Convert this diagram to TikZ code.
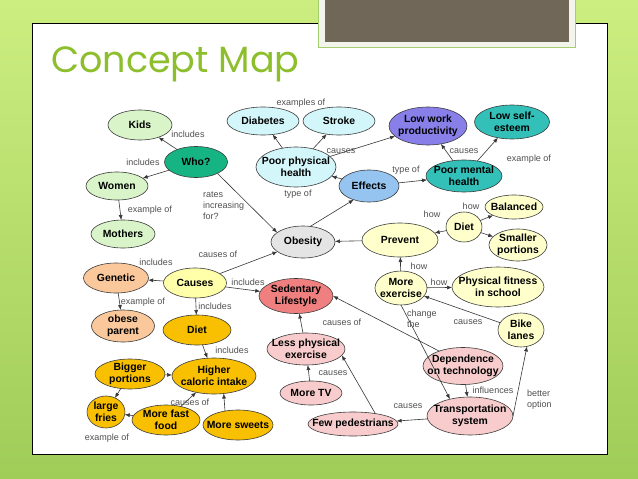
\documentclass[tikz,border=0pt]{standalone}
\usepackage{fontspec}
\setmainfont{Liberation Sans}
\newfontfamily\titlefont{Poppins}
\usetikzlibrary{shapes.geometric,arrows.meta}
\definecolor{bgtop}{RGB}{204,238,128}
\definecolor{bgbot}{RGB}{160,204,88}
\definecolor{titlec}{RGB}{141,190,44}
\definecolor{darkbox}{RGB}{113,103,88}
\definecolor{lightbox}{RGB}{243,245,236}
\definecolor{lightboxedge}{RGB}{165,205,110}
\definecolor{edgecol}{RGB}{60,60,60}
\definecolor{arrcol}{RGB}{55,55,55}
\definecolor{labcol}{RGB}{80,80,80}
\definecolor{lgreen}{RGB}{216,244,200}
\definecolor{whoc}{RGB}{22,180,130}
\definecolor{cyanc}{RGB}{210,246,250}
\definecolor{bluec}{RGB}{150,196,240}
\definecolor{purplec}{RGB}{136,128,232}
\definecolor{tealc}{RGB}{50,192,184}
\definecolor{lyel}{RGB}{255,255,204}
\definecolor{yelc}{RGB}{255,255,170}
\definecolor{grayc}{RGB}{228,228,228}
\definecolor{redc}{RGB}{240,128,128}
\definecolor{peachc}{RGB}{250,200,155}
\definecolor{goldc}{RGB}{248,192,0}
\definecolor{pinkc}{RGB}{248,204,204}
\tikzset{
  bub/.style={ellipse, draw=edgecol, line width=0.6pt, inner sep=0pt, outer sep=0pt},
  nt/.style={font=\bfseries\fontsize{10.4}{12}\selectfont, align=center, text=black, inner sep=0pt},
  lbl/.style={font=\fontsize{9}{11}\selectfont, text=labcol, inner sep=0pt, align=center},
  lbll/.style={font=\fontsize{9}{11}\selectfont, text=labcol, inner sep=0pt, align=left, anchor=west},
  arr/.style={draw=arrcol, line width=0.6pt, -{Latex[length=5pt,width=4pt]}},
  bn/.style n args={4}{bub, fill=#1, minimum width=#2, minimum height=#3, label={[nt]center:#4}},
}
\begin{document}
\begin{tikzpicture}[x=1pt,y=-1pt]
\useasboundingbox (0,0) rectangle (638,479);
% slide background
\shade[top color=bgtop, bottom color=bgbot] (0,0) rectangle (638,479);
\fill[white, draw=black, line width=0.8pt] (32,23) rectangle (607,454);
\fill[lightbox, draw=lightboxedge, line width=0.6pt] (318,-2) rectangle (575,47);
\fill[darkbox] (325,-2) rectangle (569,42);
\node[anchor=base west, inner sep=0pt, text=titlec, font=\titlefont\fontsize{36.5}{40}\selectfont] (title) at (51,72) {Concept Map};

% nodes
\node[bn={lgreen}{64}{30}{Kids}] (kids) at (140,125) {};
\node[bn={whoc}{63}{31}{Who?}] (who) at (196,162) {};
\node[bn={lgreen}{62}{28}{Women}] (women) at (117,186) {};
\node[bn={lgreen}{64}{28}{Mothers}] (mothers) at (123,234) {};
\node[bn={cyanc}{72}{28}{Diabetes}] (diab) at (263,121) {};
\node[bn={cyanc}{72}{28}{Stroke}] (stroke) at (339,121) {};
\node[bn={cyanc}{80}{40}{Poor physical\\health}] (phys) at (296,167) {};
\node[bn={bluec}{60}{32}{Effects}] (effects) at (369,186) {};
\node[bn={purplec}{78}{38}{Low work\\productivity}] (lowwork) at (428,126) {};
\node[bn={tealc}{75}{34}{Low self-\\esteem}] (selfest) at (512,122) {};
\node[bn={tealc}{76}{32}{Poor mental\\health}] (mental) at (464,176) {};
\node[bn={lyel}{58}{24}{Balanced}] (balanced) at (514,207) {};
\node[bn={lyel}{36}{30}{Diet}] (dietr) at (464,227) {};
\node[bn={lyel}{58}{32}{Smaller\\portions}] (smaller) at (518,245) {};
\node[bn={lyel}{76}{34}{Prevent}] (prevent) at (400,240) {};
\node[bn={grayc}{64}{32}{Obesity}] (obesity) at (303,242) {};
\node[bn={lyel}{52}{34}{More\\exercise}] (moreex) at (401,288) {};
\node[bn={lyel}{92}{40}{Physical fitness\\in school}] (fitness) at (498,287) {};
\node[bn={redc}{74}{35}{Sedentary\\Lifestyle}] (sedent) at (296,296) {};
\node[bn={lyel}{46}{34}{Bike\\lanes}] (bike) at (521,330) {};
\node[bn={peachc}{65}{30}{Genetic}] (genetic) at (116,278) {};
\node[bn={yelc}{63}{30}{Causes}] (causes) at (195,283) {};
\node[bn={peachc}{63}{32}{obese\\parent}] (obese) at (123,326) {};
\node[bn={goldc}{68}{30}{Diet}] (dietl) at (197,330) {};
\node[bn={goldc}{84}{36}{Higher\\caloric intake}] (hci) at (214,376) {};
\node[bn={goldc}{70}{30}{Bigger\\portions}] (bigger) at (130,374) {};
\node[bn={goldc}{38}{32}{large\\fries}] (fries) at (106,412) {};
\node[bn={goldc}{68}{30}{More fast\\food}] (fastfood) at (166,420) {};
\node[bn={goldc}{70}{30}{More sweets}] (sweets) at (238,425) {};
\node[bn={pinkc}{78}{32}{Less physical\\exercise}] (lessex) at (306,349) {};
\node[bn={pinkc}{62}{24}{More TV}] (moretv) at (311,393) {};
\node[bn={pinkc}{80}{37}{Dependence\\on technology}] (depend) at (463,366) {};
\node[bn={pinkc}{86}{38}{Transportation\\system}] (transp) at (470,416) {};
\node[bn={pinkc}{90}{24}{Few pedestrians}] (fewped) at (353,424) {};

% connectors
\draw[arr] (who) -- (kids);
\draw[arr] (who) -- (women);
\draw[arr] (women) -- (mothers);
\draw[arr] (who.-28) -- (obesity.160);
\draw[arr] (obesity.65) -- (effects.222);
\draw[arr] (effects) -- (phys);
\draw[arr] (effects) -- (mental);
\draw[arr] (phys) -- (diab);
\draw[arr] (phys) -- (stroke);
\draw[arr] (phys) -- (lowwork);
\draw[arr] (mental) -- (lowwork);
\draw[arr] (mental) -- (selfest);
\draw[arr] (prevent) -- (obesity);
\draw[arr] (dietr) -- (prevent);
\draw[arr] (dietr) -- (balanced);
\draw[arr] (dietr) -- (smaller);
\draw[arr] (moreex) -- (prevent);
\draw[arr] (moreex) -- (fitness);
\draw[arr] (moreex.south) -- (transp.140);
\draw[arr] (bike) -- (moreex);
\draw[arr] (transp.east) -- (bike.290);
\draw[arr] (depend.148) -- (sedent.east);
\draw[arr] (depend) -- (transp);
\draw[arr] (transp) -- (fewped);
\draw[arr] (fewped.25) -- (lessex.-10);
\draw[arr] (moretv) -- (lessex);
\draw[arr] (lessex) -- (sedent);
\draw[arr] (causes) -- (obesity);
\draw[arr] (causes) -- (genetic);
\draw[arr] (causes) -- (sedent);
\draw[arr] (causes) -- (dietl);
\draw[arr] (genetic) -- (obese);
\draw[arr] (dietl) -- (hci);
\draw[arr] (bigger) -- (hci);
\draw[arr] (fastfood) -- (hci);
\draw[arr] (sweets.133) -- (hci.-61);
\draw[arr] (bigger) -- (fries);
\draw[arr] (fastfood) -- (fries);

% connector labels
\node[lbl] (l1) at (188,134) {includes};
\node[lbl] (l2) at (143,162) {includes};
\node[lbl] (l3) at (150,210) {example of};
\node[lbll] (l4) at (203,206) {rates\\increasing\\for?};
\node[lbl] (l5) at (301,103) {examples of};
\node[lbl] (l6) at (341,151) {causes};
\node[lbl] (l7) at (298,194) {type of};
\node[lbl] (l8) at (406,170) {type of};
\node[lbl] (l9) at (464,151) {causes};
\node[lbl] (l10) at (529,159) {example of};
\node[lbl] (l11) at (471,206) {how};
\node[lbl] (l12) at (432,214) {how};
\node[lbl] (l13) at (419,266) {how};
\node[lbl] (l14) at (439,282) {how};
\node[lbll] (l15) at (407,319) {change\\the};
\node[lbl] (l16) at (468,322) {causes};
\node[lbl] (l17) at (218,254) {causes of};
\node[lbl] (l18) at (156,262) {includes};
\node[lbl] (l19) at (248,282) {includes};
\node[lbl] (l20) at (215,306) {includes};
\node[lbl] (l21) at (143,302) {example of};
\node[lbl] (l22) at (232,350) {includes};
\node[lbl] (l23) at (190,402) {causes of};
\node[lbl] (l24) at (107,438) {example of};
\node[lbl] (l25) at (342,322) {causes of};
\node[lbl] (l26) at (333,373) {causes};
\node[lbl] (l27) at (493,390) {influences};
\node[lbl] (l28) at (408,406) {causes};
\node[lbll] (l29) at (527,400) {better\\option};
\end{tikzpicture}
\end{document}
